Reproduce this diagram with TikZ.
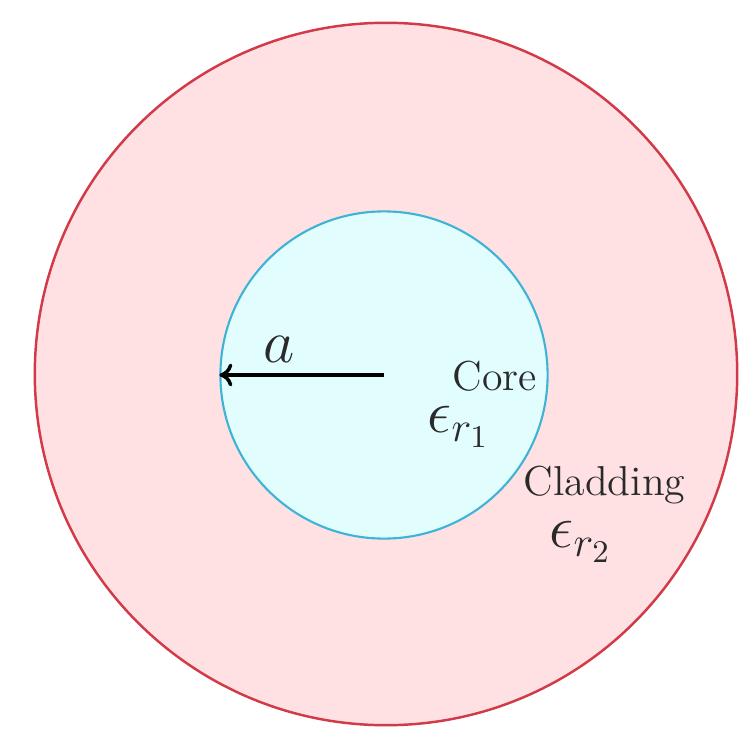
\documentclass[tikz,border=0pt]{standalone}
\usetikzlibrary{arrows.meta}
\definecolor{cladfill}{HTML}{FFE1E3}
\definecolor{cladline}{HTML}{D23A48}
\definecolor{corefill}{HTML}{E2FDFE}
\definecolor{coreline}{HTML}{3DB4D6}
\definecolor{txt}{HTML}{2A2A2A}
\tikzset{
  ring/.style={circle, inner sep=0pt, line width=0.7pt},
  lbl/.style={inner sep=0pt, text=txt, font=\fontsize{11.9}{14}\selectfont},
  mlbl/.style={inner sep=0pt, text=txt, font=\fontsize{18}{20}\selectfont},
}
\begin{document}
\begin{tikzpicture}[x=0.01cm, y=-0.01cm]
\useasboundingbox[fill=white] (0,0) rectangle (746,749);
\node[ring, draw=cladline, fill=cladfill, minimum size=7.02cm] (clad) at (386,374) {};
\node[ring, draw=coreline, fill=corefill, line width=0.6pt, minimum size=3.27cm] (core) at (384,375) {};
\draw[line width=1pt, -{Computer Modern Rightarrow[length=3.7pt,width=6.5pt]}] (core.center) -- (core.west);
\node[mlbl, anchor=base] (alab) at (279,362) {$a$};
\node[lbl, anchor=base west] (corelab) at (452,390) {Core};
\node[mlbl, anchor=base west] (eps1) at (427,432) {$\epsilon_{r_1}$};
\node[lbl, anchor=base west] (cladlab) at (523,495) {Cladding};
\node[mlbl, anchor=base west] (eps2) at (549,547) {$\epsilon_{r_2}$};
\end{tikzpicture}
\end{document}
